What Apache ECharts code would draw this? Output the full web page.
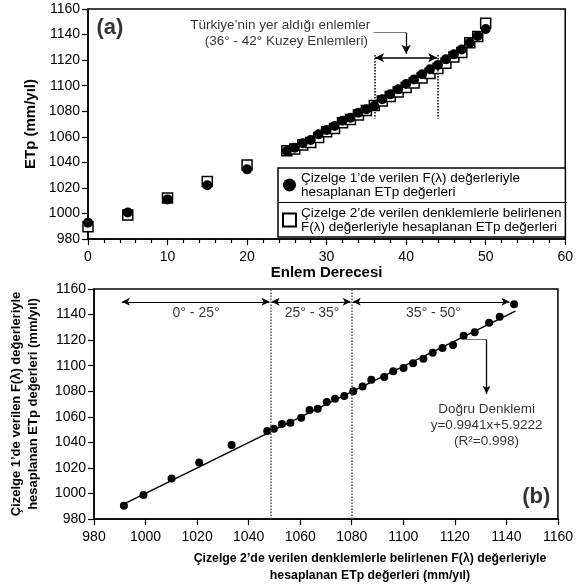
<!DOCTYPE html>
<html>
<head>
<meta charset="utf-8">
<script src="https://cdn.jsdelivr.net/npm/echarts@6/dist/echarts.min.js"></script>
<style>
html,body{margin:0;padding:0;background:#fff;}
#chart{width:576px;height:586px;}
</style>
</head>
<body>
<div id="chart"></div>
<script>
// ---------- DATA ----------
// Panel (a): latitude vs ETp
const latitudes = [0, 5, 10, 15, 20, 25, 26, 27, 28, 29, 30, 31, 32, 33, 34, 35, 36, 37, 38, 39, 40, 41, 42, 43, 44, 45, 46, 47, 48, 49, 50];
// ETp from Çizelge 1 F(λ) values (filled circles)
const etpTable1 = [992.8, 1000.8, 1011, 1022, 1034.5, 1048.9, 1051.5, 1054.9, 1057.5, 1061.9, 1065.3, 1068.4, 1072.6, 1074.9, 1078.9, 1081.5, 1084.1, 1089.3, 1093.2, 1097.1, 1101.3, 1104.9, 1108.9, 1112.8, 1116.2, 1120.6, 1124.5, 1128.4, 1133.6, 1138.9, 1144.3];
// ETp from Çizelge 2 equations (open squares)
const etpTable2 = [989.6, 998.8, 1012, 1025, 1038, 1049, 1050.5, 1053.5, 1055.5, 1059.5, 1064, 1066.5, 1071, 1073.5, 1077, 1080.5, 1084.5, 1088, 1091.5, 1095, 1098.5, 1102, 1106, 1109.5, 1113.5, 1117.5, 1122.5, 1126, 1133.5, 1138.5, 1148.8];

// Panel (b): Çizelge 2 ETp (x) vs Çizelge 1 ETp (y)
const scatterX = [991.6, 999.2, 1010.1, 1020.8, 1033.4, 1047.2, 1049.8, 1052.9, 1056.2, 1060.4, 1063.6, 1066.8, 1070.3, 1073.5, 1077.1, 1080.6, 1084.2, 1087.6, 1092.6, 1096.1, 1100.1, 1103.8, 1107.8, 1111.4, 1115.2, 1119.3, 1123.4, 1127.7, 1133.3, 1137.4, 1143.0];
const scatterY = [990.4, 998.8, 1011.6, 1024.3, 1037.9, 1048.9, 1050.7, 1054.3, 1055.4, 1059.3, 1065.3, 1066.3, 1071.6, 1074.2, 1076.3, 1079.9, 1083.6, 1089.0, 1091.1, 1095.6, 1098.2, 1101.8, 1105.5, 1110.2, 1113.8, 1116.2, 1123.5, 1126.1, 1133.6, 1138.3, 1148.0];
// regression line y = 0.9941x + 5.9222
const fitSlope = 0.9941;
const fitIntercept = 5.9222;
const fitRange = [992.5, 1143.5];

// axis ticks
const latTicks = [0, 60, 10];       // min, max, interval
const etpTicks = [980, 1160, 20];   // min, max, interval

// zone boundaries in panel (b) (ETp) and labels
const zoneBounds = [1048.5, 1080];
const zoneLabels = ['0° - 25°', '25° - 35°', '35° - 50°'];
const zoneLabelX = [1019.6, 1064.6, 1111.7];
// Turkey latitude band in panel (a)
const turkeyBand = [36, 44];

const name1 = 'Çizelge 1’de verilen F(λ) değerleriyle\nhesaplanan ETp değerleri';
const name2 = 'Çizelge 2’de verilen denklemlerle belirlenen\nF(λ) değerleriyle hesaplanan ETp değerleri';

// ---------- CHART ----------
const FONT = '"Liberation Sans", Arial, sans-serif';
const chart = echarts.init(document.getElementById('chart'), null, {renderer: 'canvas'});

function textSeries(xi, yi, items) {
  return {
    type: 'scatter', xAxisIndex: xi, yAxisIndex: yi, symbolSize: 0, silent: true, z: 10,
    data: items.map(it => ({
      value: [it.x, it.y],
      label: {
        show: true, position: [0, 0], formatter: it.t,
        align: it.align || 'center', verticalAlign: 'middle',
        fontFamily: FONT, fontSize: it.fs || 13.5, fontWeight: it.fw || 'normal',
        color: '#000', lineHeight: it.lh || 16
      }
    }))
  };
}

// line segment between two data coordinates, with optional end symbols
function seg(x1, y1, x2, y2, s1, s2, style) {
  return [
    {coord: [x1, y1], symbol: s1 || 'none', lineStyle: style},
    {coord: [x2, y2], symbol: s2 || 'none'}
  ];
}

const plainNum = v => String(v);

const axisCommon = {
  axisLine: {lineStyle: {color: '#000', width: 1.5}},
  axisTick: {show: true, inside: false, length: 6, lineStyle: {color: '#000', width: 1.2}},
  axisLabel: {color: '#000', fontSize: 14, fontFamily: FONT, formatter: plainNum},
  splitLine: {show: false}
};

const dotBlack = {type: 'dotted', color: '#000', width: 1.5};
const dotGrey = {type: 'dotted', color: '#555', width: 1.5};
const solidGrey = {type: 'solid', color: '#777', width: 1};
const solidBlack = {type: 'solid', color: '#000', width: 1.3};
const solidThin = {type: 'solid', color: '#000', width: 1};

const option = {
  animation: false,
  backgroundColor: '#fff',
  grid: [
    {left: 88, top: 9, width: 480, height: 230, show: true, borderColor: '#000', borderWidth: 1.5},
    {left: 88, top: 289, width: 471, height: 230, show: true, borderColor: '#000', borderWidth: 1.5}
  ],
  xAxis: [
    Object.assign({}, axisCommon, {
      gridIndex: 0, type: 'value', min: latTicks[0], max: latTicks[1], interval: latTicks[2],
      minorTick: {show: true, splitNumber: 5, length: 4, lineStyle: {color: '#000', width: 1.2}},
      axisLabel: Object.assign({}, axisCommon.axisLabel, {margin: 11}),
      name: 'Enlem Derecesi', nameLocation: 'middle', nameGap: 25,
      nameTextStyle: {fontFamily: FONT, fontSize: 15, fontWeight: 'bold', color: '#000'}
    }),
    Object.assign({}, axisCommon, {
      gridIndex: 1, type: 'value', min: etpTicks[0], max: etpTicks[1], interval: etpTicks[2],
      axisLabel: Object.assign({}, axisCommon.axisLabel, {margin: 11}),
      name: 'Çizelge 2’de verilen denklemlerle belirlenen F(λ) değerleriyle\nhesaplanan ETp değerleri (mm/yıl)',
      nameLocation: 'middle', nameGap: 31,
      nameTextStyle: {fontFamily: FONT, fontSize: 12.3, fontWeight: 'bold', color: '#000', lineHeight: 17, padding: [0, 0, 0, 88]}
    })
  ],
  yAxis: [
    Object.assign({}, axisCommon, {
      gridIndex: 0, type: 'value', min: etpTicks[0], max: etpTicks[1], interval: etpTicks[2],
      axisLabel: Object.assign({}, axisCommon.axisLabel, {margin: 8}),
      name: 'ETp (mm/yıl)', nameLocation: 'middle', nameGap: 48, nameRotate: 90,
      nameTextStyle: {fontFamily: FONT, fontSize: 15, fontWeight: 'bold', color: '#000'}
    }),
    Object.assign({}, axisCommon, {
      gridIndex: 1, type: 'value', min: etpTicks[0], max: etpTicks[1], interval: etpTicks[2],
      axisLabel: Object.assign({}, axisCommon.axisLabel, {margin: 8}),
      name: 'Çizelge 1’de verilen F(λ) değerleriyle\nhesaplanan ETp değerleri (mm/yıl)',
      nameLocation: 'middle', nameGap: 52, nameRotate: 90,
      nameTextStyle: {fontFamily: FONT, fontSize: 13, fontWeight: 'bold', color: '#000', lineHeight: 17}
    })
  ],
  legend: {
    orient: 'vertical', left: 278, top: 168,
    padding: [3, 4, 3, 4], itemGap: 7, itemWidth: 13, itemHeight: 13,
    borderColor: '#000', borderWidth: 1.5, backgroundColor: '#fff',
    textStyle: {fontFamily: FONT, fontSize: 13.5, lineHeight: 14, color: '#000'},
    data: [
      {name: name1, icon: 'circle'},
      {name: name2, icon: 'rect'}
    ],
    selectedMode: false, z: 20
  },
  graphic: [
    {type: 'line', shape: {x1: 278, y1: 202.5, x2: 567, y2: 202.5}, style: {stroke: '#000', lineWidth: 1}, z: 100}
  ],
  series: [
    // panel (a) squares
    {
      name: name2, type: 'scatter', xAxisIndex: 0, yAxisIndex: 0,
      symbol: 'rect', symbolSize: 10,
      itemStyle: {color: '#fff', borderColor: '#000', borderWidth: 1.5, opacity: 1},
      data: latitudes.map((x, i) => [x, etpTable2[i]]), z: 3
    },
    // panel (a) circles
    {
      name: name1, type: 'scatter', xAxisIndex: 0, yAxisIndex: 0,
      symbol: 'circle', symbolSize: 10,
      itemStyle: {color: '#000', opacity: 1},
      data: latitudes.map((x, i) => [x, etpTable1[i]]), z: 4
    },
    // annotations panel (a)
    {
      type: 'scatter', xAxisIndex: 0, yAxisIndex: 0, symbolSize: 0, silent: true, data: [],
      markLine: {
        silent: true, label: {show: false}, animation: false, symbolSize: [7, 9],
        itemStyle: {color: '#000'}, lineStyle: {color: '#000'},
        data: [
          seg(turkeyBand[0], 1124, turkeyBand[0], 1074.4, 'none', 'none', dotBlack),
          seg(turkeyBand[1], 1124, turkeyBand[1], 1074.4, 'none', 'none', dotBlack),
          seg(35.9, 1141.5, 40, 1141.5, 'none', 'none', solidGrey),
          seg(turkeyBand[0] + 0.1, 1121.9, turkeyBand[1] - 0.1, 1121.9, 'arrow', 'arrow', {type: 'solid', color: '#000', width: 1.5}),
          seg(40, 1141.5, 40, 1125, 'none', 'arrow', solidBlack)
        ]
      }
    },
    textSeries(0, 0, [
      {x: 2.75, y: 1145, t: '(a)', fs: 22, fw: 'bold'},
      {x: 35.5, y: 1147.5, t: 'Türkiye’nin yer aldığı enlemler', align: 'right'},
      {x: 35.2, y: 1135, t: '(36° - 42° Kuzey Enlemleri)', align: 'right'}
    ]),
    // panel (b) scatter
    {
      type: 'scatter', xAxisIndex: 1, yAxisIndex: 1,
      symbol: 'circle', symbolSize: 8, itemStyle: {color: '#000', opacity: 1},
      data: scatterX.map((x, i) => [x, scatterY[i]]), z: 4
    },
    // regression line
    {
      type: 'line', xAxisIndex: 1, yAxisIndex: 1, symbol: 'none', silent: true,
      lineStyle: {color: '#000', width: 1.5}, itemStyle: {color: '#000'},
      data: fitRange.map(x => [x, fitSlope * x + fitIntercept]), z: 3
    },
    // annotations panel (b)
    {
      type: 'scatter', xAxisIndex: 1, yAxisIndex: 1, symbolSize: 0, silent: true, data: [],
      markLine: {
        silent: true, label: {show: false}, animation: false, symbolSize: [6, 8],
        itemStyle: {color: '#000'}, lineStyle: {color: '#000'},
        data: [
          seg(zoneBounds[0], 980, zoneBounds[0], 1160, 'none', 'none', dotGrey),
          seg(zoneBounds[1], 980, zoneBounds[1], 1160, 'none', 'none', dotGrey),
          seg(1123.7, 1120.6, 1132.3, 1120.6, 'none', 'none', solidGrey),
          seg(990.8, 1150, zoneBounds[0] - 0.4, 1150, 'arrow', 'arrow', solidThin),
          seg(zoneBounds[0] + 0.4, 1150, zoneBounds[1] - 0.4, 1150, 'arrow', 'arrow', solidThin),
          seg(zoneBounds[1] + 0.4, 1150, 1141.2, 1150, 'arrow', 'arrow', solidThin),
          seg(1132.3, 1120.6, 1132.3, 1078, 'none', 'arrow', solidBlack)
        ]
      }
    },
    textSeries(1, 1, [
      {x: zoneLabelX[0], y: 1141, t: zoneLabels[0], fs: 14},
      {x: zoneLabelX[1], y: 1141, t: zoneLabels[1], fs: 14},
      {x: zoneLabelX[2], y: 1141, t: zoneLabels[2], fs: 14},
      {x: 1132.3, y: 1065.8, t: 'Doğru Denklemi'},
      {x: 1132.3, y: 1053, t: 'y=0.9941x+5.9222'},
      {x: 1132.3, y: 1040.5, t: '(R²=0.998)'},
      {x: 1151.6, y: 997.2, t: '(b)', fs: 22, fw: 'bold'}
    ])
  ]
};
chart.setOption(option);
</script>
</body>
</html>
